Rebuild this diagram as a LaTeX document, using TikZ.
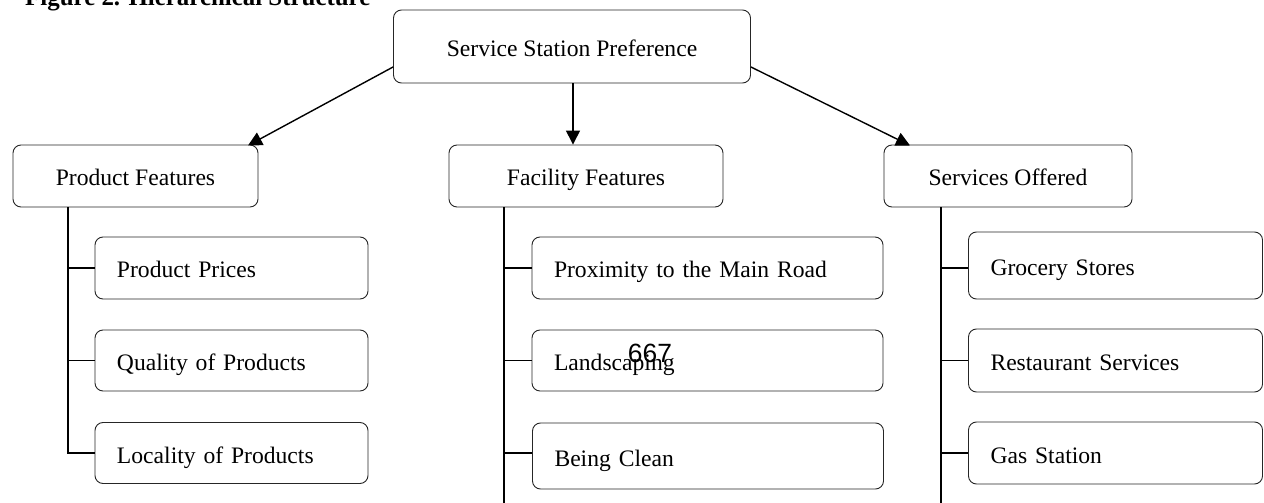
\documentclass[tikz,border=0pt]{standalone}
\usepackage{fontspec}
\setmainfont{Liberation Serif}
\newfontfamily\pagenumfont{Liberation Sans}
\usetikzlibrary{arrows.meta}
\tikzset{
  box/.style={draw=black!85, line width=0.9bp, rounded corners=8bp, inner sep=0pt,
    text height=20bp, text depth=0bp,
    font=\fontsize{23.7}{28}\selectfont},
  headbox/.style={box, align=center},
  itembox/.style={box, align=left, inner xsep=22bp},
  link/.style={draw=black, line width=1.4bp},
  arr/.style={link, -{Triangle[length=14bp,width=14bp]}}
}
\begin{document}
\begin{tikzpicture}[x=1bp,y=-1bp]
\useasboundingbox (0,0) rectangle (1264,503);
\begin{scope}
\clip (0,0) rectangle (1264,503);
% caption line at the top
\node[anchor=base west, inner sep=0pt, font=\fontsize{25}{28}\selectfont\bfseries] (title) at (25,6) {Figure 2. Hierarchical Structure};

% top level
\node[headbox, minimum width=357bp, minimum height=73bp] (root) at (572,46.5) {Service Station Preference};

% second level
\node[headbox, minimum width=245bp, minimum height=62bp] (prod) at (135.5,176) {Product Features};
\node[headbox, minimum width=274bp, minimum height=62bp] (fac) at (586,176) {Facility Features};
\node[headbox, minimum width=248bp, minimum height=62bp] (serv) at (1008,176) {Services Offered};

% product items
\node[itembox, text width=229bp, minimum height=62bp] (p1) at (231.5,268) {Product Prices};
\node[itembox, text width=229bp, minimum height=61bp] (p2) at (231.5,360.5) {Quality of Products};
\node[itembox, text width=229bp, minimum height=61bp] (p3) at (231.5,453) {Locality of Products};

% facility items
\node[itembox, text width=307bp, minimum height=62bp] (f1) at (707.5,268) {Proximity to the Main Road};
\node[itembox, text width=307bp, minimum height=61bp] (f2) at (707.5,360.5) {Landscaping};
\node[itembox, text width=307bp, minimum height=66bp] (f3) at (708,456) {Being Clean};

% service items
\node[itembox, text width=250bp, minimum height=67bp] (s1) at (1115.5,265.5) {Grocery Stores};
\node[itembox, text width=250bp, minimum height=63bp] (s2) at (1115.5,360.5) {Restaurant Services};
\node[itembox, text width=250bp, minimum height=62bp] (s3) at (1115.5,453) {Gas Station};

% arrows from the top box
\draw[arr] (root.west |- 0,67) -- (248,145.5);
\draw[arr] (root.south -| 573,0) -- (fac.north -| 573,0);
\draw[arr] (root.east |- 0,67) -- (910,145.5);

% product branch
\coordinate (pb) at (68,453);
\draw[link] (prod.south -| 68,0) -- (pb) -- (p3.west);
\draw[link] (68,268) -- (p1.west);
\draw[link] (68,360.5) -- (p2.west);

% facility branch
\coordinate (fb) at (504,503);
\draw[link] (fac.south -| 504,0) -- (fb);
\draw[link] (504,268) -- (f1.west);
\draw[link] (504,360.5) -- (f2.west);
\draw[link] (504,453) -- (f3.west |- 0,453);

% service branch
\coordinate (sb) at (941,503);
\draw[link] (serv.south -| 941,0) -- (sb);
\draw[link] (941,268) -- (s1.west |- 0,268);
\draw[link] (941,360.5) -- (s2.west);
\draw[link] (941,453) -- (s3.west);

% page number overprinted on the figure
\node[inner sep=0pt, font=\pagenumfont\fontsize{26.5}{30}\selectfont] (pg) at (650,353.5) {667};
\end{scope}
\end{tikzpicture}
\end{document}
